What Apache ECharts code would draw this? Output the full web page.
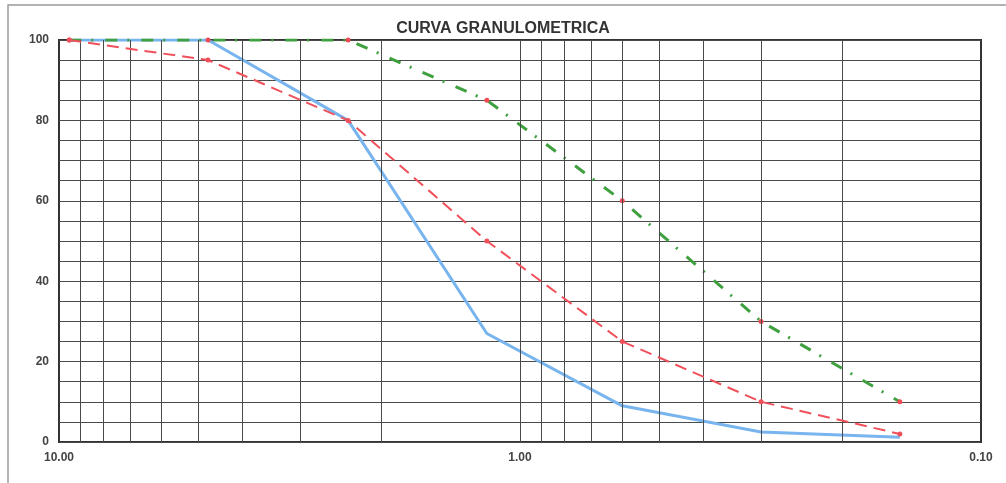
<!DOCTYPE html>
<html>
<head>
<meta charset="utf-8">
<script src="https://cdn.jsdelivr.net/npm/echarts@6/dist/echarts.min.js"></script>
<style>
  html, body { margin: 0; padding: 0; background: #fff; }
  #show_charts { width: 1006px; height: 483px; }
</style>
</head>
<body>
<div id="show_charts"></div>
<script>
// sieve openings (mm) and % passing
var sieveSizes = [9.5, 4.75, 2.36, 1.18, 0.6, 0.3, 0.15];
var blueVals = [100, 100, 80, 27, 9, 2.5, 1.2];
var redVals = [100, 95, 80, 50, 25, 10, 2];
var greenVals = [100, 100, 100, 85, 60, 30, 10];
// vertical log grid lines
var logGrid = [9, 8, 7, 6, 5, 4, 3, 2, 1, 0.9, 0.8, 0.7, 0.6, 0.5, 0.4, 0.3, 0.2];

function pairs(vals) {
    var res = [];
    for (var i = 0; i < sieveSizes.length; i++) {
        res.push([sieveSizes[i], vals[i]]);
    }
    return res;
}

var gridLines = [];
for (var i = 0; i < logGrid.length; i++) {
    gridLines.push({ xAxis: logGrid[i] });
}

var myChart = echarts.init(document.getElementById('show_charts'));
var option = {
    animation: false,
    backgroundColor: '#fff',
    title: {
        text: 'CURVA GRANULOMETRICA',
        left: 'center',
        top: 16,
        textStyle: {
            fontFamily: 'Liberation Sans',
            fontSize: 16,
            fontWeight: 'bold',
            color: '#333'
        }
    },
    graphic: [{
        type: 'polyline',
        shape: { points: [[8, 483], [8, 5], [1006, 5]] },
        style: { stroke: '#9a9a9a', lineWidth: 1.5, fill: null }
    }],
    grid: {
        left: 59,
        right: 25,
        top: 40,
        bottom: 41,
        show: true,
        borderColor: '#333',
        borderWidth: 2
    },
    xAxis: {
        type: 'log',
        logBase: 10,
        min: 0.1,
        max: 10,
        inverse: true,
        axisLine: { show: false },
        axisTick: { show: false },
        splitLine: { show: false },
        axisLabel: {
            margin: 10,
            fontFamily: 'Liberation Sans',
            fontSize: 12,
            fontWeight: 'bold',
            color: '#444',
            showMinLabel: true,
            showMaxLabel: true,
            formatter: function (v) { return Number(v).toFixed(2); }
        }
    },
    yAxis: {
        type: 'value',
        min: 0,
        max: 100,
        interval: 5,
        axisLine: { show: false },
        axisTick: { show: false },
        splitLine: { lineStyle: { color: '#4a4a4a', width: 1 } },
        axisLabel: {
            margin: 10,
            fontFamily: 'Liberation Sans',
            fontSize: 12,
            fontWeight: 'bold',
            color: '#444',
            formatter: function (v) { return v % 20 === 0 ? String(v) : ''; }
        }
    },
    series: [
        {
            type: 'line',
            data: [],
            z: 1,
            markLine: {
                silent: true,
                symbol: 'none',
                label: { show: false },
                lineStyle: { color: '#4a4a4a', width: 1, type: 'solid' },
                data: gridLines
            }
        },
        {
            name: 'blue',
            type: 'line',
            data: pairs(blueVals),
            z: 3,
            symbol: 'none',
            lineStyle: { color: '#78b4ee', width: 3 },
            itemStyle: { color: '#78b4ee' }
        },
        {
            name: 'green',
            type: 'line',
            data: pairs(greenVals),
            z: 4,
            symbol: 'circle',
            symbolSize: 5,
            lineStyle: { color: '#3fa03f', width: 3, type: [12, 10, 2, 12] },
            itemStyle: { color: '#f04a55' }
        },
        {
            name: 'red',
            type: 'line',
            data: pairs(redVals),
            z: 5,
            symbol: 'circle',
            symbolSize: 5,
            lineStyle: { color: '#f0505a', width: 2, type: [12, 7] },
            itemStyle: { color: '#f0505a' }
        }
    ]
};
myChart.setOption(option);
</script>
</body>
</html>
